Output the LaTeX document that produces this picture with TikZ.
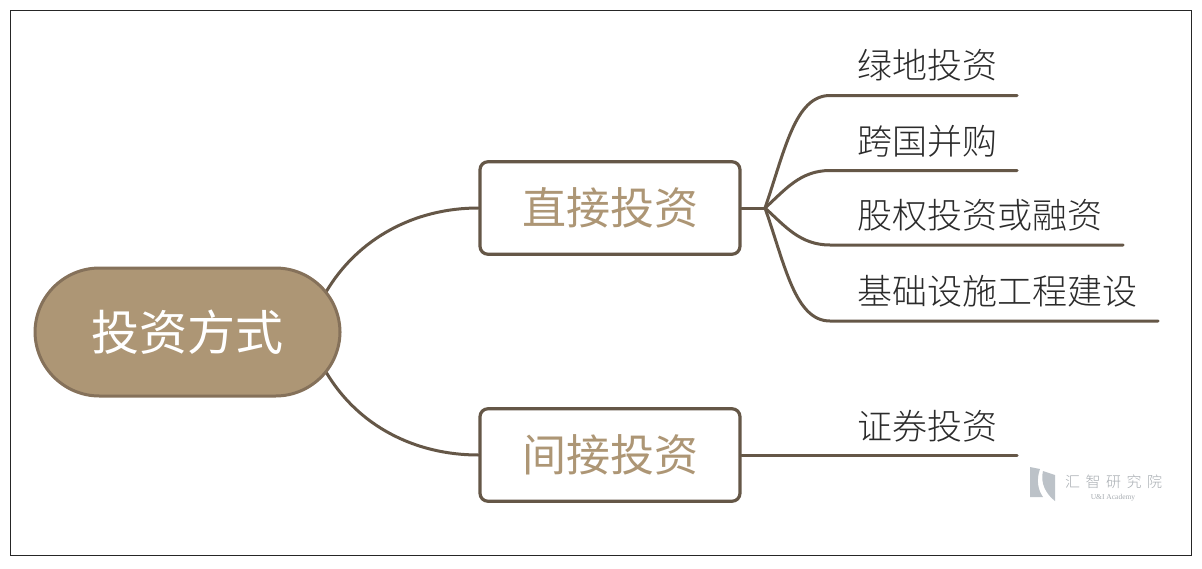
\documentclass[tikz,border=0pt]{standalone}
\usepackage{fontspec}
\setmainfont{Liberation Serif}
\newfontfamily\cjk{Noto Sans CJK SC}
\newfontfamily\cjklight{Noto Sans CJK SC Light}
\definecolor{linebrown}{HTML}{655747}
\definecolor{tan}{HTML}{AD9675}
\definecolor{tanedge}{HTML}{85715A}
\definecolor{leafink}{HTML}{2B2B2B}
\definecolor{markgray}{HTML}{BCC2C8}
\definecolor{marktext}{HTML}{A8ADB2}
\tikzset{
  conn/.style={draw=linebrown,line width=3pt,line cap=round},
  rootbox/.style={draw=tanedge,line width=3pt,fill=tan,rounded corners=64.5pt,minimum width=305pt,minimum height=128pt,inner sep=0pt,text=white,font=\cjk\fontsize{48}{48}\selectfont},
  midbox/.style={draw=linebrown,line width=3.2pt,fill=white,rounded corners=8pt,minimum width=260pt,minimum height=92.5pt,inner sep=0pt,text=tan,font=\cjk\fontsize{44}{44}\selectfont},
  leaf/.style={anchor=base west,inner sep=0pt,text=leafink,font=\cjklight\fontsize{35}{35}\selectfont},
}
\begin{document}
\begin{tikzpicture}[x=1pt,y=-1pt]
\useasboundingbox (0,0) rectangle (1202,568);
\fill[white] (0,0) rectangle (1202,568);
\node[draw=black!85,line width=1pt,minimum width=1181pt,minimum height=545pt,inner sep=0pt,anchor=north west] (frame) at (9.8,10) {};

\coordinate (c1) at (326,292);
\coordinate (c2) at (326,372);
\coordinate (j) at (765,208);
\coordinate (l1a) at (830,95.5);
\coordinate (l1b) at (1017,95.5);
\coordinate (l2a) at (830,170.5);
\coordinate (l2b) at (1017,170.5);
\coordinate (l3a) at (830,245);
\coordinate (l3b) at (1123,245);
\coordinate (l4a) at (830,321);
\coordinate (l4b) at (1158,321);
\coordinate (l5b) at (1017,455);

\node[midbox] (m1) at (610,208) {直接投资};
\node[midbox] (m2) at (610,455) {间接投资};

\draw[conn] (c1) .. controls (358,238) and (415,208) .. (m1.west);
\draw[conn] (c2) .. controls (358,426) and (415,455) .. (m2.west);
\node[rootbox] (root) at (187.5,332) {投资方式};

\draw[conn] (m1.east) -- (j);
\draw[conn] (j) .. controls (785,150) and (795,95.5) .. (l1a) -- (l1b);
\draw[conn] (j) .. controls (785,190) and (800,170.5) .. (l2a) -- (l2b);
\draw[conn] (j) .. controls (785,226) and (800,245) .. (l3a) -- (l3b);
\draw[conn] (j) .. controls (785,265) and (795,321) .. (l4a) -- (l4b);
\draw[conn] (m2.east) -- (l5b);

\node[leaf] (t1) at (857,78) {绿地投资};
\node[leaf] (t2) at (857,154) {跨国并购};
\node[leaf] (t3) at (857,228) {股权投资或融资};
\node[leaf] (t4) at (857,304) {基础设施工程建设};
\node[leaf] (t5) at (857,439) {证券投资};

\fill[markgray] (1030,467) -- (1040,469) .. controls (1036,480) and (1038,490) .. (1043,497) -- (1030,497) -- cycle;
\fill[markgray] (1043,471) -- (1055,475) -- (1055,501) .. controls (1046,494) and (1040,483) .. (1043,471) -- cycle;
\node[inner sep=0pt,text=marktext,font=\cjklight\fontsize{15}{15}\selectfont] (w1) at (1113.5,482) {汇\hspace{5.5pt}智\hspace{5.5pt}研\hspace{5.5pt}究\hspace{5.5pt}院};
\node[inner sep=0pt,text=marktext,font=\fontsize{7.5}{7.5}\selectfont] (w2) at (1113,498) {U\&I Academy};
\end{tikzpicture}
\end{document}
